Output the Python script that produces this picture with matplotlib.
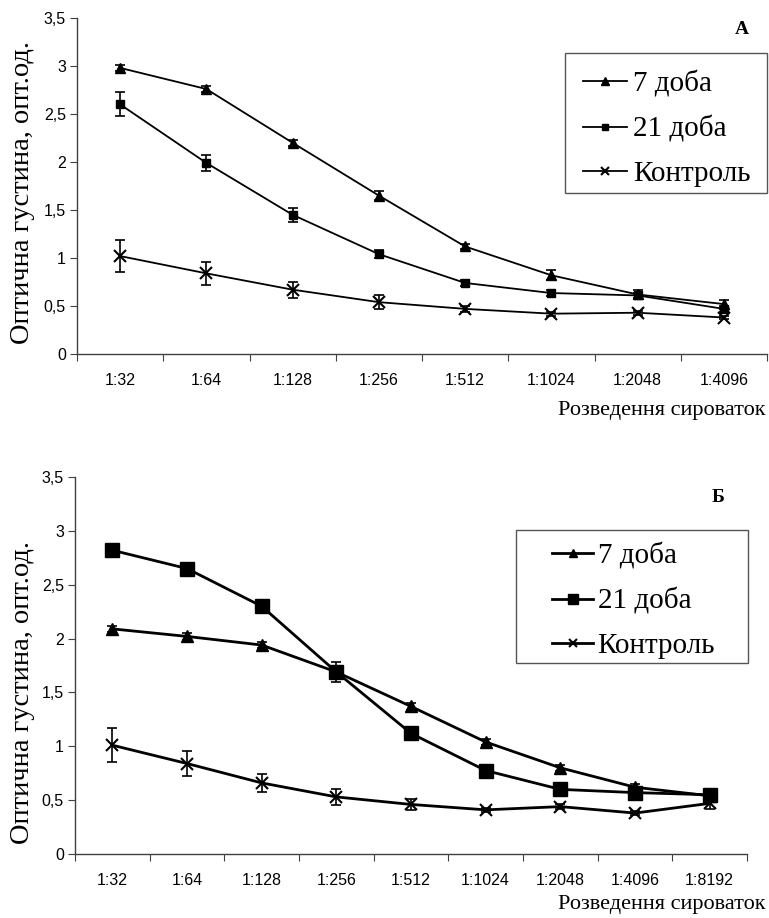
import matplotlib
matplotlib.use("Agg")
import matplotlib.pyplot as plt
from matplotlib.patches import Rectangle
import numpy as np

# ---- data ----
cats_a = ["1:32", "1:64", "1:128", "1:256", "1:512", "1:1024", "1:2048", "1:4096"]
cats_b = ["1:32", "1:64", "1:128", "1:256", "1:512", "1:1024", "1:2048", "1:4096", "1:8192"]

a_day7 = [2.98, 2.76, 2.20, 1.65, 1.12, 0.82, 0.62, 0.52]
a_day7_err = [0.03, 0.03, 0.03, 0.05, 0.03, 0.05, 0.05, 0.04]
a_day21 = [2.60, 1.99, 1.45, 1.04, 0.74, 0.635, 0.61, 0.47]
a_day21_err = [0.125, 0.085, 0.07, 0.045, 0.03, 0.03, 0.03, 0.03]
a_ctrl = [1.02, 0.84, 0.67, 0.54, 0.47, 0.42, 0.43, 0.38]
a_ctrl_err = [0.165, 0.12, 0.085, 0.075, 0.03, 0.02, 0.02, 0.02]

b_day7 = [2.09, 2.02, 1.94, 1.69, 1.37, 1.04, 0.80, 0.62, 0.54]
b_day7_err = [0.03, 0.03, 0.03, 0.03, 0.03, 0.03, 0.03, 0.03, 0.03]
b_day21 = [2.82, 2.65, 2.30, 1.69, 1.12, 0.775, 0.60, 0.57, 0.55]
b_day21_err = [0.02, 0.03, 0.02, 0.095, 0.04, 0.02, 0.02, 0.02, 0.02]
b_ctrl = [1.01, 0.84, 0.66, 0.53, 0.46, 0.41, 0.44, 0.38, 0.47]
b_ctrl_err = [0.16, 0.12, 0.085, 0.077, 0.05, 0.02, 0.02, 0.02, 0.05]

labels = ["7 доба", "21 доба", "Контроль"]
yticks = [0, 0.5, 1, 1.5, 2, 2.5, 3, 3.5]
ytick_labels = ["0", "0,5", "1", "1,5", "2", "2,5", "3", "3,5"]

W, H = 769, 918
fig = plt.figure(figsize=(W / 100, H / 100), dpi=100)

SANS = "Liberation Sans"
SERIF = "Liberation Serif"
AXC = "#404040"


def fx(px):
    return px / W


def fy(py):
    return 1 - py / H


def panel(rect, cats, series, errs, msizes, lw, frame, leg_anchor, hlen, htpad,
          lspace, mscale, letter, letter_xy, xlabel_xy):
    ax = fig.add_axes(rect)
    n = len(cats)
    x = np.arange(n)
    markers = ["^", "s", "x"]
    handles = []
    for s, e, m, ms in zip(series, errs, markers, msizes):
        ax.errorbar(x, s, yerr=e, fmt="none", ecolor="black", elinewidth=1.2,
                    capsize=3.5, capthick=1.2, zorder=2)
        mew = 1.5 if m == "x" else 1
        h, = ax.plot(x, s, color="black", lw=lw, marker=m, ms=ms,
                     mfc="black", mec="black", mew=mew, zorder=3)
        handles.append(h)
    ax.set_xlim(-0.5, n - 0.5)
    ax.set_ylim(0, 3.5)
    ax.set_yticks(yticks)
    ax.set_yticklabels(ytick_labels, fontfamily=SANS, fontsize=11.5)
    ax.set_xticks(np.arange(-0.5, n), minor=False)
    ax.set_xticklabels([])
    ax.set_xticks(x, minor=True)
    ax.set_xticklabels(cats, minor=True, fontfamily=SANS, fontsize=11.5)
    ax.tick_params(axis="x", which="major", length=5, color=AXC, direction="out")
    ax.tick_params(axis="x", which="minor", length=0, pad=14)
    ax.tick_params(axis="y", length=5, color=AXC, direction="out", pad=3)
    for sp in ["top", "right"]:
        ax.spines[sp].set_visible(False)
    for sp in ["left", "bottom"]:
        ax.spines[sp].set_color(AXC)
        ax.spines[sp].set_linewidth(1)
    # legend frame (manual) and legend entries
    x0, y0, x1, y1 = frame
    fig.patches.append(Rectangle((fx(x0), fy(y1)), fx(x1) - fx(x0), fy(y0) - fy(y1),
                                 transform=fig.transFigure, fill=False,
                                 edgecolor="#555555", lw=1, zorder=5))
    ax.legend(handles, labels, loc="center left",
              bbox_to_anchor=(fx(leg_anchor[0]), fy(leg_anchor[1])),
              bbox_transform=fig.transFigure,
              prop={"family": SERIF, "size": 21}, frameon=False,
              borderaxespad=0, borderpad=0, handlelength=hlen,
              handletextpad=htpad, labelspacing=lspace, markerscale=mscale)
    fig.text(fx(letter_xy[0]), fy(letter_xy[1]), letter, fontfamily=SERIF,
             fontweight="bold", fontsize=14, ha="center", va="center")
    fig.text(fx(xlabel_xy[0]), fy(xlabel_xy[1]), "Розведення сироваток",
             fontfamily=SERIF, fontsize=16, ha="right", va="center")
    return ax


# Panel A
axA = panel([fx(77), fy(354), fx(767) - fx(77), fy(18) - fy(354)], cats_a,
            [a_day7, a_day21, a_ctrl], [a_day7_err, a_day21_err, a_ctrl_err],
            [7, 6, 8], 1.3, (565, 53, 767, 193), (583, 129), 1.52, 0.2, 0.62, 0.8,
            "А", (742, 30), (765, 410))
fig.text(fx(23), fy(192), "Оптична густина, опт.од.", fontfamily=SERIF,
         fontsize=20.5, rotation=90, ha="center", va="center")

# Panel B
axB = panel([fx(75), fy(854), fx(747) - fx(75), fy(477) - fy(854)], cats_b,
            [b_day7, b_day21, b_ctrl], [b_day7_err, b_day21_err, b_ctrl_err],
            [8, 10, 9], 2.0, (516, 530, 748, 663), (552, 601), 1.42, 0.14, 0.62, 0.65,
            "Б", (718, 497), (765, 905))
fig.text(fx(23), fy(692), "Оптична густина, опт.од.", fontfamily=SERIF,
         fontsize=20.5, rotation=90, ha="center", va="center")

fig.savefig("out.png", dpi=100, facecolor="white")
